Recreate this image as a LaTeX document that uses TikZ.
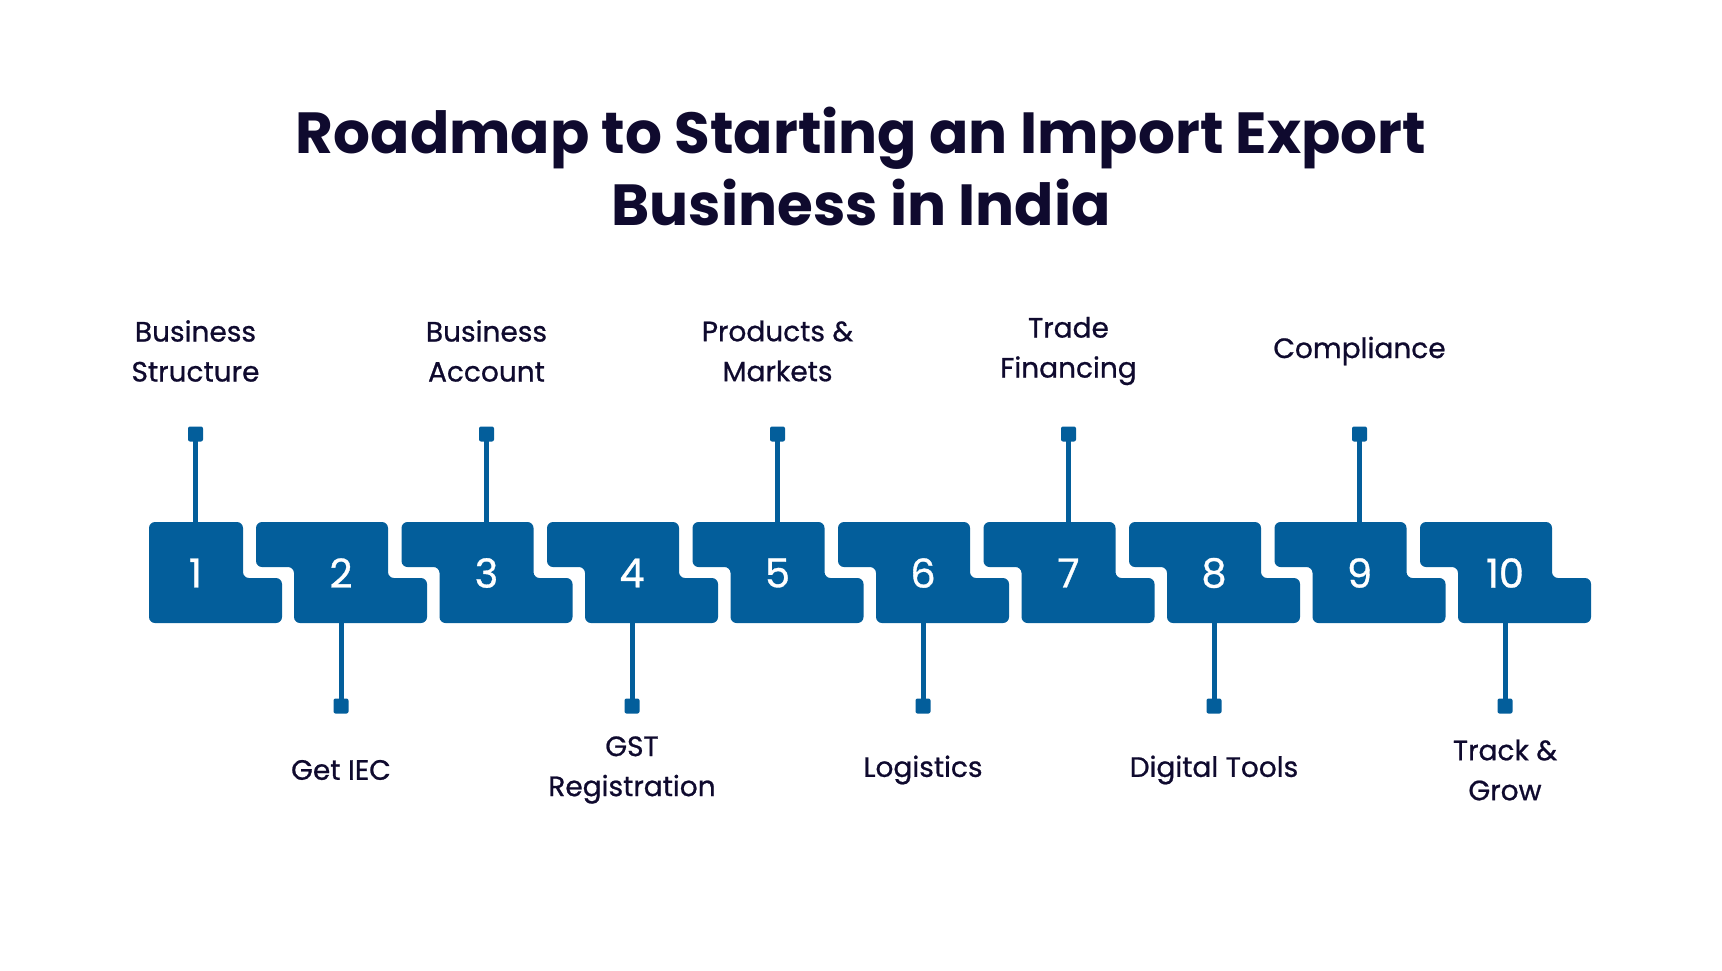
\documentclass[tikz,border=0pt]{standalone}
\usepackage{fontspec}
\setmainfont{Poppins}
\usetikzlibrary{positioning}
\definecolor{stepblue}{HTML}{035E9B}
\definecolor{titleink}{HTML}{0F0A2E}
\tikzset{piece/.style={fill=stepblue,rounded corners=6pt},
  stepnum/.style={text=white,font=\addfontfeature{FakeBold=0.8}\fontsize{40}{40}\selectfont},
  stem/.style={draw=stepblue,line width=5pt},
  stemend/.style={fill=stepblue,rounded corners=2pt,minimum size=15pt,inner sep=0pt},
  steplabel/.style={text=titleink,align=center,font=\addfontfeature{FakeBold=0.8}\fontsize{28}{40}\selectfont}}
\begin{document}
\begin{tikzpicture}[x=1pt,y=-1pt]
    \useasboundingbox (0,0) rectangle (1722,970);
    \node (title) [text=titleink,align=center,font=\bfseries\fontsize{58}{72}\selectfont] at (861,166)
      {Roadmap to Starting an Import Export\\Business in India};
    % first piece is cut straight on the left
    \fill[piece] (149,522) -- (243,522) -- (243,578) -- (282,578) -- (282,623) -- (149,623) -- cycle;
    \foreach \n in {2,...,10} {
      \pgfmathsetmacro{\L}{256+145.5*(\n-2)}
      \fill[piece] (\L,522) -- (\L+132,522) -- (\L+132,578) -- (\L+171,578)
        -- (\L+171,623) -- (\L+38,623) -- (\L+38,567) -- (\L,567) -- cycle;
    }
    \foreach \n/\txt in {1/{Business\\Structure},2/{Get IEC},3/{Business\\Account},
      4/{GST\\Registration},5/{Products \&\\Markets},6/{Logistics},7/{Trade\\Financing},
      8/{Digital Tools},9/{Compliance},10/{Track \&\\Grow}} {
      \pgfmathsetmacro{\X}{341+145.5*(\n-2)}
      \node (n\n) [stepnum] at (\X,573) {\n};
      \ifodd\n
        \coordinate (c\n) at (\X,522);
        \node (sq\n) [stemend] at (\X,434) {};
        \node (lab\n) [steplabel] at (\X,351) {\txt};
      \else
        \coordinate (c\n) at (\X,623);
        \node (sq\n) [stemend] at (\X,706) {};
        \node (lab\n) [steplabel] at (\X,770) {\txt};
      \fi
      \draw[stem] (c\n) -- (sq\n.center);
    }
\end{tikzpicture}
\end{document}
